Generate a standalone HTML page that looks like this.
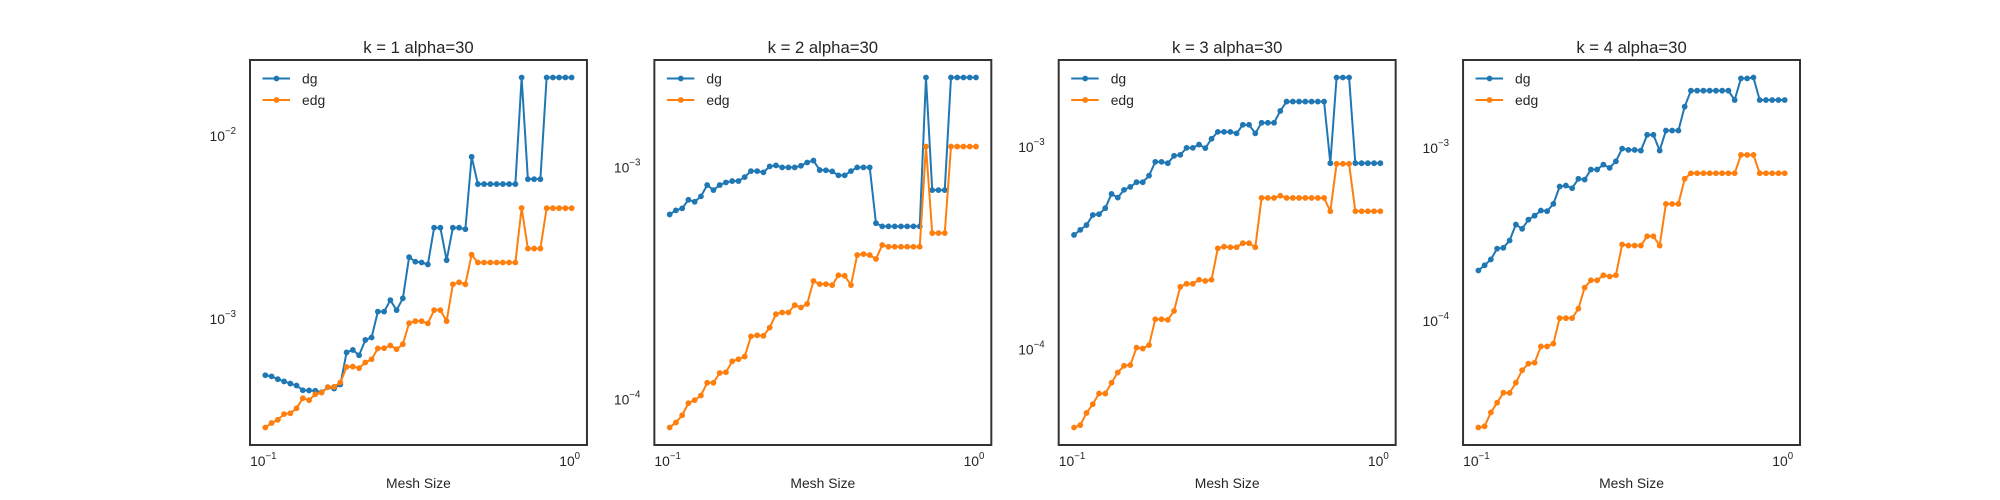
<!DOCTYPE html>
<html><head><meta charset="utf-8"><style>
html,body{margin:0;padding:0;background:#fff;}
svg{display:block;font-family:"Liberation Sans",Arial,sans-serif;}
</style></head><body>
<svg id="fig" width="2000" height="500" viewBox="0 0 2000 500" xmlns="http://www.w3.org/2000/svg"></svg>
<script>
const titles = ["k = 1 alpha=30","k = 2 alpha=30","k = 3 alpha=30","k = 4 alpha=30"];
const seriesNames = ["dg","edg"];
const xTickValues = [0.1, 1];
const xTickExps = ["-1","0"];
const nPoints = 50;
const dg1 = [4.94e-4,4.87e-4,4.70e-4,4.57e-4,4.45e-4,4.34e-4,4.09e-4,4.08e-4,4.06e-4,3.99e-4,4.25e-4,4.18e-4,4.40e-4,6.58e-4,6.79e-4,6.35e-4,7.70e-4,7.94e-4,1.10e-3,1.10e-3,1.27e-3,1.12e-3,1.30e-3,2.18e-3,2.06e-3,2.04e-3,1.99e-3,3.16e-3,3.16e-3,2.10e-3,3.16e-3,3.16e-3,3.10e-3,7.71e-3,5.47e-3,5.47e-3,5.47e-3,5.47e-3,5.47e-3,5.47e-3,5.47e-3,2.09e-2,5.82e-3,5.82e-3,5.82e-3,2.09e-2,2.09e-2,2.09e-2,2.09e-2,2.09e-2];
const edg1 = [2.56e-4,2.71e-4,2.82e-4,3.03e-4,3.06e-4,3.26e-4,3.70e-4,3.61e-4,3.89e-4,3.97e-4,4.25e-4,4.27e-4,4.51e-4,5.48e-4,5.51e-4,5.40e-4,5.80e-4,6.04e-4,6.92e-4,6.94e-4,7.18e-4,6.85e-4,7.30e-4,9.51e-4,9.75e-4,9.75e-4,9.48e-4,1.12e-3,1.12e-3,9.75e-4,1.55e-3,1.59e-3,1.55e-3,2.25e-3,2.04e-3,2.04e-3,2.04e-3,2.04e-3,2.04e-3,2.04e-3,2.04e-3,4.05e-3,2.43e-3,2.43e-3,2.43e-3,4.04e-3,4.04e-3,4.04e-3,4.04e-3,4.04e-3];
const dg2 = [6.27e-4,6.53e-4,6.66e-4,7.25e-4,7.11e-4,7.50e-4,8.39e-4,7.98e-4,8.39e-4,8.61e-4,8.73e-4,8.73e-4,9.08e-4,9.64e-4,9.64e-4,9.52e-4,1.01e-3,1.02e-3,1.00e-3,1.00e-3,1.00e-3,1.016e-3,1.05e-3,1.07e-3,9.74e-4,9.72e-4,9.61e-4,9.24e-4,9.24e-4,9.64e-4,1.00e-3,1.00e-3,1.00e-3,5.75e-4,5.57e-4,5.57e-4,5.57e-4,5.57e-4,5.57e-4,5.57e-4,5.57e-4,2.44e-3,7.98e-4,7.98e-4,7.98e-4,2.44e-3,2.44e-3,2.44e-3,2.44e-3,2.44e-3];
const edg2 = [7.57e-5,7.96e-5,8.55e-5,9.64e-5,9.93e-5,1.04e-4,1.18e-4,1.18e-4,1.30e-4,1.31e-4,1.46e-4,1.49e-4,1.53e-4,1.87e-4,1.89e-4,1.88e-4,2.04e-4,2.33e-4,2.37e-4,2.37e-4,2.55e-4,2.49e-4,2.58e-4,3.24e-4,3.14e-4,3.14e-4,3.11e-4,3.43e-4,3.41e-4,3.11e-4,4.19e-4,4.23e-4,4.19e-4,4.03e-4,4.63e-4,4.55e-4,4.55e-4,4.55e-4,4.55e-4,4.55e-4,4.55e-4,1.23e-3,5.21e-4,5.21e-4,5.21e-4,1.23e-3,1.23e-3,1.23e-3,1.23e-3,1.23e-3];
const dg3 = [3.68e-4,3.90e-4,4.12e-4,4.62e-4,4.66e-4,4.99e-4,5.87e-4,5.63e-4,6.15e-4,6.36e-4,6.71e-4,6.71e-4,7.23e-4,8.46e-4,8.46e-4,8.33e-4,9.06e-4,9.16e-4,9.92e-4,9.92e-4,1.03e-3,9.89e-4,1.10e-3,1.19e-3,1.19e-3,1.19e-3,1.17e-3,1.29e-3,1.29e-3,1.17e-3,1.32e-3,1.32e-3,1.32e-3,1.51e-3,1.68e-3,1.68e-3,1.68e-3,1.68e-3,1.68e-3,1.68e-3,1.68e-3,8.33e-4,2.21e-3,2.21e-3,2.21e-3,8.33e-4,8.33e-4,8.33e-4,8.33e-4,8.33e-4];
const edg3 = [4.11e-5,4.22e-5,4.85e-5,5.36e-5,6.05e-5,6.05e-5,6.84e-5,7.69e-5,8.30e-5,8.36e-5,1.02e-4,1.01e-4,1.05e-4,1.41e-4,1.41e-4,1.40e-4,1.55e-4,2.04e-4,2.11e-4,2.11e-4,2.21e-4,2.18e-4,2.21e-4,3.16e-4,3.22e-4,3.20e-4,3.20e-4,3.35e-4,3.35e-4,3.20e-4,5.61e-4,5.61e-4,5.61e-4,5.75e-4,5.61e-4,5.61e-4,5.61e-4,5.61e-4,5.61e-4,5.61e-4,5.61e-4,4.82e-4,8.27e-4,8.27e-4,8.27e-4,4.82e-4,4.82e-4,4.82e-4,4.82e-4,4.82e-4];
const dg4 = [1.96e-4,2.10e-4,2.27e-4,2.62e-4,2.65e-4,2.92e-4,3.61e-4,3.41e-4,3.85e-4,4.06e-4,4.35e-4,4.31e-4,4.75e-4,5.98e-4,6.06e-4,5.85e-4,6.63e-4,6.56e-4,7.50e-4,7.50e-4,8.01e-4,7.67e-4,8.37e-4,9.91e-4,9.74e-4,9.74e-4,9.65e-4,1.19e-3,1.19e-3,9.65e-4,1.26e-3,1.26e-3,1.26e-3,1.73e-3,2.14e-3,2.14e-3,2.14e-3,2.14e-3,2.14e-3,2.14e-3,2.14e-3,1.89e-3,2.52e-3,2.52e-3,2.55e-3,1.89e-3,1.89e-3,1.89e-3,1.89e-3,1.89e-3];
const edg4 = [2.43e-5,2.47e-5,2.97e-5,3.38e-5,3.86e-5,3.85e-5,4.41e-5,5.20e-5,5.68e-5,5.75e-5,7.14e-5,7.14e-5,7.41e-5,1.04e-4,1.04e-4,1.04e-4,1.18e-4,1.56e-4,1.72e-4,1.72e-4,1.84e-4,1.81e-4,1.84e-4,2.77e-4,2.73e-4,2.73e-4,2.73e-4,3.09e-4,3.09e-4,2.73e-4,4.75e-4,4.75e-4,4.75e-4,6.63e-4,7.14e-4,7.14e-4,7.14e-4,7.14e-4,7.14e-4,7.14e-4,7.14e-4,7.14e-4,9.11e-4,9.11e-4,9.11e-4,7.14e-4,7.14e-4,7.14e-4,7.14e-4,7.14e-4];

const NS = "http://www.w3.org/2000/svg";
const svg = document.getElementById("fig");
function mk(tag, attrs, parent){ const e=document.createElementNS(NS,tag); for(const k in attrs) e.setAttribute(k,attrs[k]); (parent||svg).appendChild(e); return e; }
const colors = ["#1f77b4","#ff7f0e"];
const panelData = [[dg1,edg1],[dg2,edg2],[dg3,edg3],[dg4,edg4]];
const meshSizes = [];
for(let i=0;i<nPoints;i++) meshSizes.push(Math.pow(10,-1+i/(nPoints-1)));
const PW = 336.96, GAP = 67.39, TOP = 60, BOT = 445;

panelData.forEach((series, p) => {
  const L = 250 + p*(PW+GAP), R = L+PW;
  const g = mk("g",{});
  
  
  const lx = meshSizes.map(v=>Math.log10(v));
  const xmin0 = Math.min(...lx), xmax0 = Math.max(...lx), xm = (xmax0-xmin0)*0.05;
  const xlo = xmin0-xm, xhi = xmax0+xm;
  const all = series[0].concat(series[1]).map(v=>Math.log10(v));
  const ymin0 = Math.min(...all), ymax0 = Math.max(...all), ym = (ymax0-ymin0)*0.05;
  const ylo = ymin0-ym, yhi = ymax0+ym;
  const X = v => L + (Math.log10(v)-xlo)/(xhi-xlo)*PW;
  const Y = v => BOT - (Math.log10(v)-ylo)/(yhi-ylo)*(BOT-TOP);

  // title
  const t = mk("text",{x:(L+R)/2,y:53,"text-anchor":"middle","font-size":"16.7","fill":"#262626"},g);
  t.textContent = titles[p];
  
  

  // y ticks
  for(let d=Math.ceil(ylo); d<=Math.floor(yhi); d++){
    const yy = Y(Math.pow(10,d));
    const tx = mk("text",{x:L-14,y:yy+5,"text-anchor":"end","font-size":"13.9","fill":"#262626"},g);
    
    
    const a = mk("tspan",{},tx); a.textContent="10";
    const b = mk("tspan",{dy:"-7","font-size":"9.7"},tx); b.textContent="\u2212"+Math.abs(d);
  }
  // x ticks
  xTickValues.forEach((v,k)=>{
    const tx = mk("text",{x:X(v)-2,y:466,"text-anchor":"middle","font-size":"13.9","fill":"#262626"},g);
    
    
    const a = mk("tspan",{},tx); a.textContent="10";
    const b = mk("tspan",{dy:"-7","font-size":"9.7"},tx); b.textContent=(xTickExps[k]==="0"?"0":"\u2212"+xTickExps[k].slice(1));
  });
  const xl = mk("text",{x:(L+R)/2,y:488,"text-anchor":"middle","font-size":"13.9","fill":"#262626"},g);
  xl.textContent = "Mesh Size";
  
  

  // series
  series.forEach((vals, s) => {
    const sg = mk("g",{},g);
    
    
    const pts = vals.map((v,i)=>X(meshSizes[i]).toFixed(2)+","+Y(v).toFixed(2)).join(" ");
    const pl = mk("polyline",{points:pts,fill:"none",stroke:colors[s],"stroke-width":"2","stroke-linejoin":"round"},sg);
    
    
    vals.forEach((v,i)=>{
      const c = mk("circle",{cx:X(meshSizes[i]),cy:Y(v),r:2.9,fill:colors[s]},sg);
      
      
    });
  });

  // frame
  const fr = mk("rect",{x:L,y:TOP,width:PW,height:BOT-TOP,fill:"none",stroke:"#333","stroke-width":"2"},g);
  
  

  // legend
  const lg = mk("g",{},g);
  
  
  seriesNames.forEach((n,s)=>{
    const yy = 78.5 + s*21.5;
    const e = mk("g",{},lg);
    
    
    mk("line",{x1:L+12.5,x2:L+40,y1:yy,y2:yy,stroke:colors[s],"stroke-width":"2"},e);
    mk("circle",{cx:L+26.5,cy:yy,r:2.9,fill:colors[s]},e);
    const tt = mk("text",{x:L+52,y:yy+5,"font-size":"13.9","fill":"#262626"},e);
    tt.textContent = n;
  });
});
</script>
</body></html>
